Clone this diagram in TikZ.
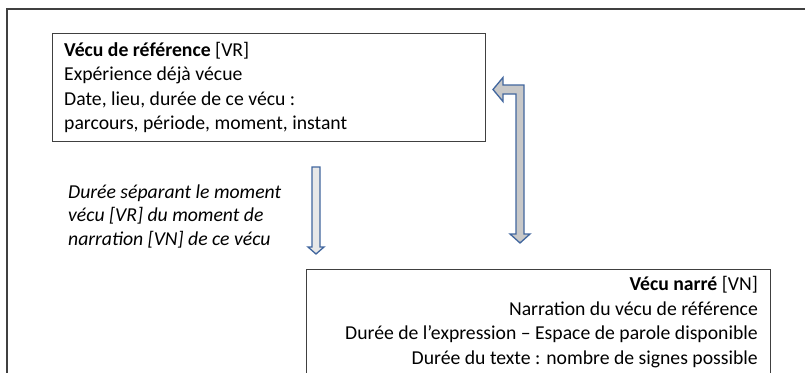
\documentclass[tikz,border=0pt]{standalone}
\usepackage{fontspec}
\setmainfont{Carlito}
\definecolor{framegray}{HTML}{404040}
\definecolor{arrowblue}{HTML}{41669E}
\definecolor{lightfill}{HTML}{E8E8E8}
\definecolor{darkfill}{HTML}{C8C8C8}
\begin{document}
\begin{tikzpicture}[x=1pt,y=-1pt,
  box/.style={draw=framegray, line width=1.3pt, rectangle, inner sep=0pt, anchor=north west},
  boxtext/.style={inner sep=0pt, font=\fontsize{19.7}{24.4}\selectfont},
  arrowshape/.style={draw=arrowblue, line width=1.3pt, line join=miter}]
\useasboundingbox (0,0) rectangle (805,372);
\clip (0,0) rectangle (805,372);
% outer frame
\draw[framegray, line width=1.3pt] (7,9) rectangle (830,400);
% boxes
\node[box, minimum width=433pt, minimum height=108pt] (vr) at (52,33) {};
\node[box, minimum width=464pt, minimum height=140pt] (vn) at (306,269) {};
% texts
\node[boxtext, anchor=north west, align=left] (vrtext) at (64,42)
  {\textbf{Vécu de référence} [VR]\\Expérience déjà vécue\\Date, lieu, durée de ce vécu :\\parcours, période, moment, instant};
\node[boxtext, anchor=north east, align=right] (vntext) at (758,276.5)
  {\textbf{Vécu narré} [VN]\\Narration du vécu de référence\\Durée de l’expression – Espace de parole disponible\\Durée du texte : nombre de signes possible};
\node[boxtext, anchor=north west, align=left, font=\fontsize{19.7}{23.5}\selectfont\itshape] (dur) at (68,184.5)
  {Durée séparant le moment\\vécu [VR] du moment de\\narration [VN] de ce vécu};
% small down arrow
\draw[arrowshape, fill=lightfill] (312,167) -- (320,167) -- (320,247) -- (324,247) -- (316,254) -- (308,247) -- (312,247) -- cycle;
% bent double arrow
\draw[arrowshape, fill=darkfill] (493,89.5) -- (503,77.5) -- (503,85) -- (524,85) -- (524,234) -- (530,234) -- (520,243) -- (510,234) -- (516,234) -- (516,94) -- (503,94) -- (503,101.5) -- cycle;
\end{tikzpicture}
\end{document}
